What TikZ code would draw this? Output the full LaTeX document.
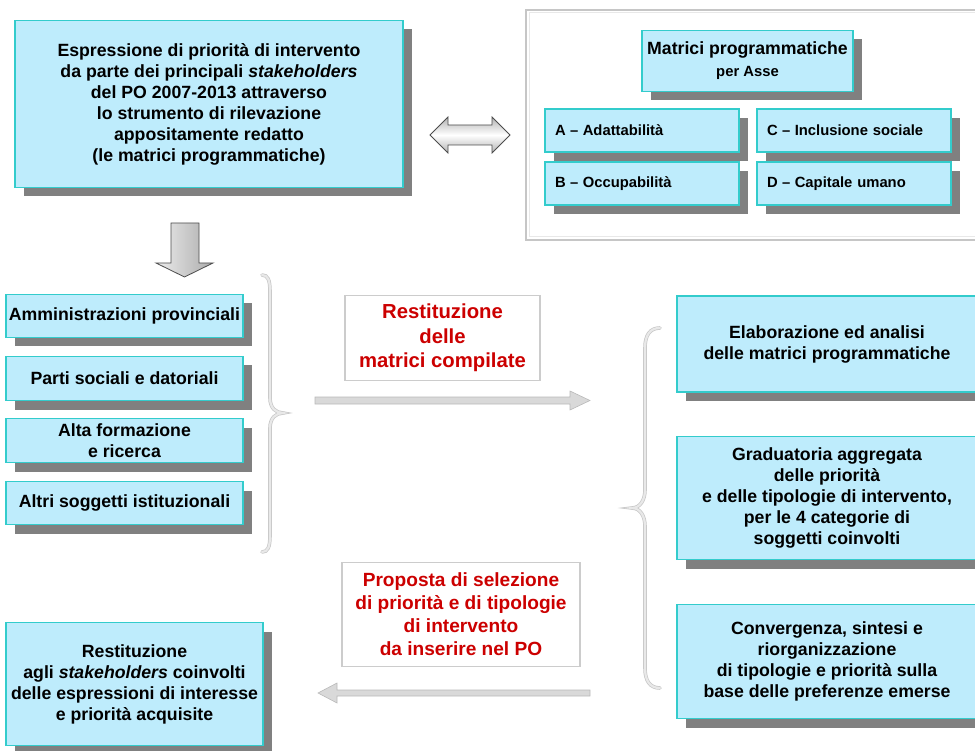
\documentclass[tikz,border=0pt]{standalone}
\usepackage{fontspec}
\setmainfont{Liberation Sans}
\usetikzlibrary{shadows}
\definecolor{boxfill}{RGB}{190,236,252}
\definecolor{boxline}{RGB}{51,204,204}
\definecolor{shadowgray}{RGB}{128,128,128}
\definecolor{redtext}{RGB}{204,0,0}
\definecolor{lightarrow}{RGB}{217,217,217}
\definecolor{arrowline}{RGB}{185,185,185}
\newcommand\mainfnt{\bfseries\fontsize{17.7}{21}\selectfont}
\newcommand\smallfnt{\bfseries\fontsize{14.8}{18}\selectfont}
\newcommand\dsh{\hspace{0.3em}–\hspace{0.3em}}
\begin{document}
\begin{tikzpicture}[x=1pt,y=-1pt,
  bluebox/.style={draw=boxline, line width=1.5pt, fill=boxfill, inner sep=0pt, outer sep=0pt,
    align=center, font=\mainfnt,
    general shadow={fill=shadowgray, shadow xshift=9pt, shadow yshift=-9pt}},
  sz/.style 2 args={minimum width=#1pt, minimum height=#2pt},
  axisbox/.style={bluebox, font=\smallfnt, align=left, text width=174pt, inner xsep=10pt, minimum height=43pt},
  redbox/.style={draw=gray!40, line width=1.2pt, fill=white, inner sep=0pt, align=center, text=redtext},
  lightarr/.style={fill=lightarrow, draw=arrowline, line width=0.6pt},
  bracestyle/.style={draw=gray!45, line width=0.7pt, double=gray!18, double distance=2.2pt, line cap=round}
]
\useasboundingbox (0,0) rectangle (975,751);
\clip (0,0) rectangle (975,751);

% top-left box
\node[bluebox, sz={388}{167}] (tl) at (209,104)
  {Espressione di priorità di intervento\\
   da parte dei principali \textit{stakeholders}\\
   del PO 2007-2013 attraverso\\
   lo strumento di rilevazione\\
   appositamente redatto\\
   (le matrici programmatiche)};

% double arrow
\path[draw=gray!60!black, line width=0.8pt, top color=gray!60, bottom color=gray!60, middle color=white]
  (430,135) -- (448,117) -- (448,125) -- (492,125) -- (492,117) -- (510,135)
  -- (492,153) -- (492,145) -- (448,145) -- (448,153) -- cycle;

% frame
\draw[draw=gray!45, line width=2pt, fill=white] (526,10) rectangle (995,240);
\draw[draw=gray!18, line width=1pt] (529,13) rectangle (995,237);

\node[bluebox, sz={211}{61}] (mat) at (747.5,61)
  {Matrici programmatiche\\[1pt]{\smallfnt per Asse}};
\node[axisbox] (axA) at (642,130.5) {A\dsh Adattabilità};
\node[axisbox] (axC) at (854,130.5) {C\dsh Inclusione sociale};
\node[axisbox] (axB) at (642,183.5) {B\dsh Occupabilità};
\node[axisbox] (axD) at (854,183.5) {D\dsh Capitale umano};

% down arrow
\path[draw=gray!60!black, line width=0.8pt, left color=gray!15, right color=gray!65]
  (171,223) -- (199,223) -- (199,263) -- (213,263) -- (184.5,277) -- (156,263) -- (171,263) -- cycle;

% left boxes
\node[bluebox, sz={237}{43}] (l1) at (124.5,316) {Amministrazioni provinciali};
\node[bluebox, sz={237}{44}] (l2) at (124.5,378.5) {Parti sociali e datoriali};
\node[bluebox, sz={237}{44}] (l3) at (124.5,440.5) {Alta formazione\\e ricerca};
\node[bluebox, sz={237}{43}] (l4) at (124.5,503) {Altri soggetti istituzionali};

% left brace
\draw[bracestyle] (262,275) .. controls (268,275) and (270,280) .. (270,292) -- (270,398)
  .. controls (270,408) and (276,413) .. (283,413)
  .. controls (276,413) and (270,418) .. (270,428) -- (270,535)
  .. controls (270,547) and (268,552) .. (262,552);

% red box 1 and right arrow
\node[redbox, sz={195}{85}, font=\bfseries\fontsize{20.3}{24.5}\selectfont] (rd1) at (442.5,338)
  {Restituzione\\delle\\matrici compilate};
\path[lightarr] (315,397) -- (570,397) -- (570,391) -- (590,400.5) -- (570,410) -- (570,404) -- (315,404) -- cycle;

% right brace
\draw[bracestyle] (660,328) .. controls (650,328) and (645,335) .. (645,348) -- (645,490)
  .. controls (645,500) and (640,508) .. (632,508)
  .. controls (640,508) and (645,516) .. (645,526) -- (645,668)
  .. controls (645,681) and (650,688) .. (660,688);

% right boxes
\node[bluebox, sz={300}{96}] (r1) at (827,344)
  {Elaborazione ed analisi\\delle matrici programmatiche};
\node[bluebox, sz={300}{123}] (r2) at (827,498)
  {Graduatoria aggregata\\delle priorità\\e delle tipologie di intervento,\\per le 4 categorie di\\soggetti coinvolti};
\node[bluebox, sz={300}{114}] (r3) at (827,661.5)
  {Convergenza, sintesi e\\riorganizzazione\\di tipologie e priorità sulla\\base delle preferenze emerse};

% red box 2 and left arrow
\node[redbox, sz={238}{104}, font=\bfseries\fontsize{19.1}{23}\selectfont] (rd2) at (461,614.5)
  {Proposta di selezione\\di priorità e di tipologie\\di intervento\\da inserire nel PO};
\path[lightarr] (590,690) -- (337,690) -- (337,683) -- (318,693) -- (337,703) -- (337,696) -- (590,696) -- cycle;

% bottom-left box
\node[bluebox, sz={257}{123}] (bl) at (134.5,684)
  {Restituzione\\agli \textit{stakeholders} coinvolti\\delle espressioni di interesse\\e priorità acquisite};
\end{tikzpicture}
\end{document}
